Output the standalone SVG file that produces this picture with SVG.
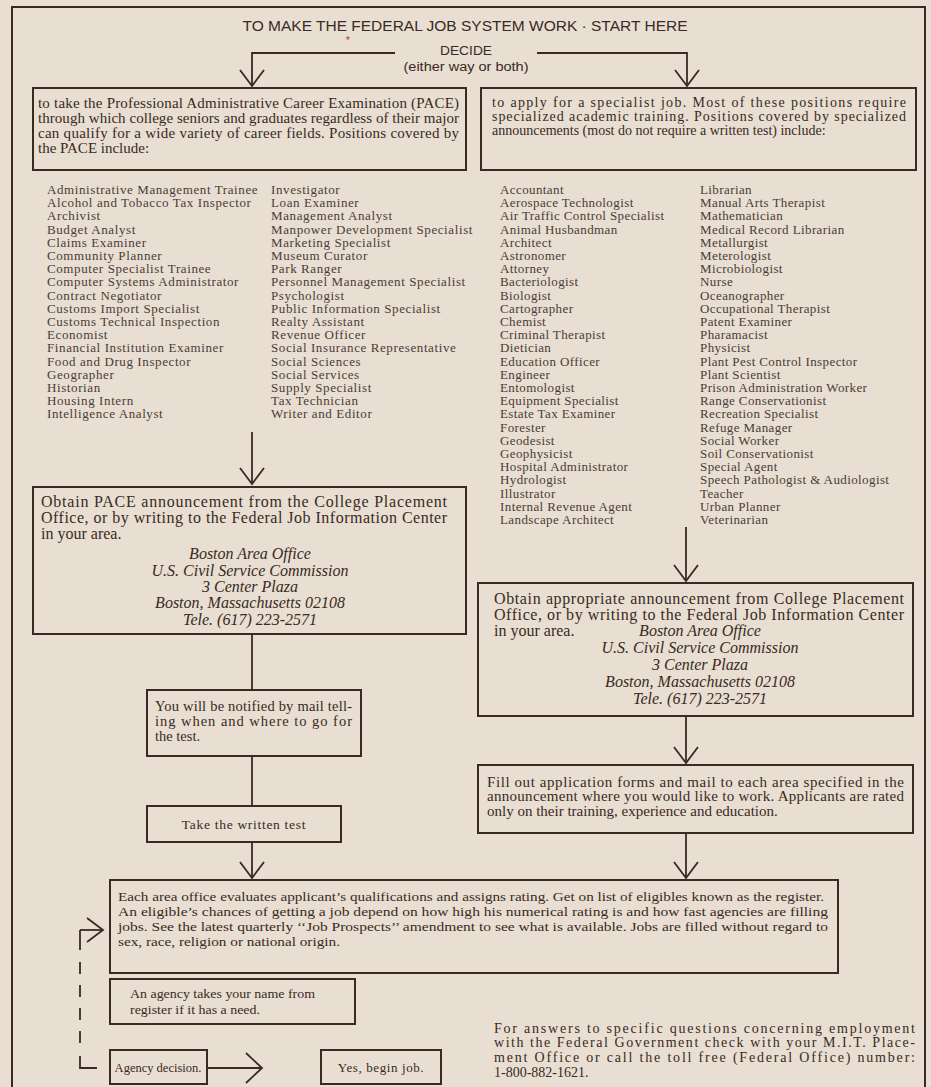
<svg xmlns="http://www.w3.org/2000/svg" width="931" height="1087" viewBox="0 0 931 1087">
<style>
.bg{fill:#e8ded2}
.box{fill:none;stroke:#3a2a22;stroke-width:2}
.ln{fill:none;stroke:#3a2a22;stroke-width:1.8}
.t{font-family:"Liberation Serif",serif;fill:#3a2a22}
.b{font-size:15px}
.lst{font-family:"Liberation Serif",serif;fill:#4a3c36;font-size:13px;letter-spacing:0.6px}
.it{font-family:"Liberation Serif",serif;font-style:italic;fill:#3a2a22;font-size:16px;text-anchor:middle}
.hd{font-family:"Liberation Sans",sans-serif;fill:#3a2a22;text-anchor:middle}
</style>
<defs>
<marker id="v" viewBox="-2 -2 20 28" refX="16" refY="12" markerWidth="20" markerHeight="28" markerUnits="userSpaceOnUse" orient="auto" overflow="visible">
<path d="M0,0 L16,12 L0,24" fill="none" stroke="#3a2a22" stroke-width="1.8"/>
</marker>
<marker id="vb" viewBox="-2 -2 20 34" refX="16" refY="15" markerWidth="20" markerHeight="34" markerUnits="userSpaceOnUse" orient="auto" overflow="visible">
<path d="M0,0 L16,15 L0,30" fill="none" stroke="#3a2a22" stroke-width="1.8"/>
</marker>
</defs>
<rect class="bg" x="0" y="0" width="931" height="1087"/>
<rect class="box" x="12" y="7" width="913" height="1085"/>

<g id="title">
<text class="hd" x="465" y="31" font-size="14" textLength="445" lengthAdjust="spacingAndGlyphs">TO MAKE THE FEDERAL JOB SYSTEM WORK · START HERE</text>
<text x="348" y="44" font-family="Liberation Sans,sans-serif" font-size="11" fill="#c0392b" text-anchor="middle">*</text>
</g>
<g id="decide">
<text class="hd" x="466" y="55" font-size="13" textLength="52" lengthAdjust="spacingAndGlyphs">DECIDE</text>
<text class="hd" x="466" y="71" font-size="12.5" textLength="125" lengthAdjust="spacingAndGlyphs">(either way or both)</text>
</g>

<g id="connectors">
<path class="ln" d="M395,53 H252 V86" marker-end="url(#v)"/>
<path class="ln" d="M537,53 H687 V86" marker-end="url(#v)"/>
<path class="ln" d="M252,432 V484" marker-end="url(#v)"/>
<path class="ln" d="M252,634 V690"/>
<path class="ln" d="M252,756 V806"/>
<path class="ln" d="M252,842 V878" marker-end="url(#v)"/>
<path class="ln" d="M686,527 V581" marker-end="url(#v)"/>
<path class="ln" d="M686,716 V763" marker-end="url(#v)"/>
<path class="ln" d="M686,833 V878" marker-end="url(#v)"/>
<path class="ln" d="M80,930 H103" marker-end="url(#v)"/>
<path class="ln" d="M80,930 V950"/>
<path class="ln" d="M80,962 V1054" stroke-dasharray="12 11"/>
<path class="ln" d="M80,1056 V1068 H97"/>
<path class="ln" d="M207,1068 H262" marker-end="url(#vb)"/>
</g>

<g id="pace-box">
<rect class="box" x="33" y="88" width="433" height="82"/>
<text class="t b" x="38" y="108" textLength="421" lengthAdjust="spacing">to take the Professional Administrative Career Examination (PACE)</text>
<text class="t b" x="38" y="123" textLength="421" lengthAdjust="spacing">through which college seniors and graduates regardless of their major</text>
<text class="t b" x="38" y="138" textLength="421" lengthAdjust="spacing">can qualify for a wide variety of career fields. Positions covered by</text>
<text class="t b" x="38" y="153">the PACE include:</text>
</g>

<g id="specialist-box">
<rect class="box" x="481" y="88" width="435" height="82"/>
<text class="t" font-size="14" x="492" y="107" textLength="414" lengthAdjust="spacing">to apply for a specialist job. Most of these positions require</text>
<text class="t" font-size="14" x="492" y="121" textLength="414" lengthAdjust="spacing">specialized academic training. Positions covered by specialized</text>
<text class="t" font-size="14" x="492" y="135">announcements (most do not require a written test) include:</text>
</g>

<g id="pace-list">
<text class="lst" x="47" y="194">
<tspan x="47" dy="0">Administrative Management Trainee</tspan>
<tspan x="47" dy="13.2">Alcohol and Tobacco Tax Inspector</tspan>
<tspan x="47" dy="13.2">Archivist</tspan>
<tspan x="47" dy="13.2">Budget Analyst</tspan>
<tspan x="47" dy="13.2">Claims Examiner</tspan>
<tspan x="47" dy="13.2">Community Planner</tspan>
<tspan x="47" dy="13.2">Computer Specialist Trainee</tspan>
<tspan x="47" dy="13.2">Computer Systems Administrator</tspan>
<tspan x="47" dy="13.2">Contract Negotiator</tspan>
<tspan x="47" dy="13.2">Customs Import Specialist</tspan>
<tspan x="47" dy="13.2">Customs Technical Inspection</tspan>
<tspan x="47" dy="13.2">Economist</tspan>
<tspan x="47" dy="13.2">Financial Institution Examiner</tspan>
<tspan x="47" dy="13.2">Food and Drug Inspector</tspan>
<tspan x="47" dy="13.2">Geographer</tspan>
<tspan x="47" dy="13.2">Historian</tspan>
<tspan x="47" dy="13.2">Housing Intern</tspan>
<tspan x="47" dy="13.2">Intelligence Analyst</tspan>
</text>
<text class="lst" x="271" y="194">
<tspan x="271" dy="0">Investigator</tspan>
<tspan x="271" dy="13.2">Loan Examiner</tspan>
<tspan x="271" dy="13.2">Management Analyst</tspan>
<tspan x="271" dy="13.2">Manpower Development Specialist</tspan>
<tspan x="271" dy="13.2">Marketing Specialist</tspan>
<tspan x="271" dy="13.2">Museum Curator</tspan>
<tspan x="271" dy="13.2">Park Ranger</tspan>
<tspan x="271" dy="13.2">Personnel Management Specialist</tspan>
<tspan x="271" dy="13.2">Psychologist</tspan>
<tspan x="271" dy="13.2">Public Information Specialist</tspan>
<tspan x="271" dy="13.2">Realty Assistant</tspan>
<tspan x="271" dy="13.2">Revenue Officer</tspan>
<tspan x="271" dy="13.2">Social Insurance Representative</tspan>
<tspan x="271" dy="13.2">Social Sciences</tspan>
<tspan x="271" dy="13.2">Social Services</tspan>
<tspan x="271" dy="13.2">Supply Specialist</tspan>
<tspan x="271" dy="13.2">Tax Technician</tspan>
<tspan x="271" dy="13.2">Writer and Editor</tspan>
</text>
</g>

<g id="specialist-list">
<text class="lst" x="500" y="194" style="letter-spacing:0.4px">
<tspan x="500" dy="0">Accountant</tspan>
<tspan x="500" dy="13.2">Aerospace Technologist</tspan>
<tspan x="500" dy="13.2">Air Traffic Control Specialist</tspan>
<tspan x="500" dy="13.2">Animal Husbandman</tspan>
<tspan x="500" dy="13.2">Architect</tspan>
<tspan x="500" dy="13.2">Astronomer</tspan>
<tspan x="500" dy="13.2">Attorney</tspan>
<tspan x="500" dy="13.2">Bacteriologist</tspan>
<tspan x="500" dy="13.2">Biologist</tspan>
<tspan x="500" dy="13.2">Cartographer</tspan>
<tspan x="500" dy="13.2">Chemist</tspan>
<tspan x="500" dy="13.2">Criminal Therapist</tspan>
<tspan x="500" dy="13.2">Dietician</tspan>
<tspan x="500" dy="13.2">Education Officer</tspan>
<tspan x="500" dy="13.2">Engineer</tspan>
<tspan x="500" dy="13.2">Entomologist</tspan>
<tspan x="500" dy="13.2">Equipment Specialist</tspan>
<tspan x="500" dy="13.2">Estate Tax Examiner</tspan>
<tspan x="500" dy="13.2">Forester</tspan>
<tspan x="500" dy="13.2">Geodesist</tspan>
<tspan x="500" dy="13.2">Geophysicist</tspan>
<tspan x="500" dy="13.2">Hospital Administrator</tspan>
<tspan x="500" dy="13.2">Hydrologist</tspan>
<tspan x="500" dy="13.2">Illustrator</tspan>
<tspan x="500" dy="13.2">Internal Revenue Agent</tspan>
<tspan x="500" dy="13.2">Landscape Architect</tspan>
</text>
<text class="lst" x="700" y="194" style="letter-spacing:0.4px">
<tspan x="700" dy="0">Librarian</tspan>
<tspan x="700" dy="13.2">Manual Arts Therapist</tspan>
<tspan x="700" dy="13.2">Mathematician</tspan>
<tspan x="700" dy="13.2">Medical Record Librarian</tspan>
<tspan x="700" dy="13.2">Metallurgist</tspan>
<tspan x="700" dy="13.2">Meterologist</tspan>
<tspan x="700" dy="13.2">Microbiologist</tspan>
<tspan x="700" dy="13.2">Nurse</tspan>
<tspan x="700" dy="13.2">Oceanographer</tspan>
<tspan x="700" dy="13.2">Occupational Therapist</tspan>
<tspan x="700" dy="13.2">Patent Examiner</tspan>
<tspan x="700" dy="13.2">Pharamacist</tspan>
<tspan x="700" dy="13.2">Physicist</tspan>
<tspan x="700" dy="13.2">Plant Pest Control Inspector</tspan>
<tspan x="700" dy="13.2">Plant Scientist</tspan>
<tspan x="700" dy="13.2">Prison Administration Worker</tspan>
<tspan x="700" dy="13.2">Range Conservationist</tspan>
<tspan x="700" dy="13.2">Recreation Specialist</tspan>
<tspan x="700" dy="13.2">Refuge Manager</tspan>
<tspan x="700" dy="13.2">Social Worker</tspan>
<tspan x="700" dy="13.2">Soil Conservationist</tspan>
<tspan x="700" dy="13.2">Special Agent</tspan>
<tspan x="700" dy="13.2">Speech Pathologist &amp; Audiologist</tspan>
<tspan x="700" dy="13.2">Teacher</tspan>
<tspan x="700" dy="13.2">Urban Planner</tspan>
<tspan x="700" dy="13.2">Veterinarian</tspan>
</text>
</g>

<g id="obtain-pace">
<rect class="box" x="33" y="487" width="433" height="147"/>
<text class="t" font-size="16" x="41" y="507" textLength="406" lengthAdjust="spacing">Obtain PACE announcement from the College Placement</text>
<text class="t" font-size="16" x="41" y="523" textLength="406" lengthAdjust="spacing">Office, or by writing to the Federal Job Information Center</text>
<text class="t" font-size="16" x="41" y="539">in your area.</text>
<text class="it" x="250" y="559">Boston Area Office</text>
<text class="it" x="250" y="576">U.S. Civil Service Commission</text>
<text class="it" x="250" y="592">3 Center Plaza</text>
<text class="it" x="250" y="608">Boston, Massachusetts 02108</text>
<text class="it" x="250" y="625">Tele. (617) 223-2571</text>
</g>

<g id="notified">
<rect class="box" x="147" y="690" width="214" height="66"/>
<text class="t" font-size="14.5" x="155" y="711" textLength="197" lengthAdjust="spacing">You will be notified by mail tell-</text>
<text class="t" font-size="14.5" x="155" y="726" textLength="197" lengthAdjust="spacing">ing when and where to go for</text>
<text class="t" font-size="14.5" x="155" y="741">the test.</text>
</g>

<g id="written-test">
<rect class="box" x="147" y="806" width="194" height="36"/>
<text class="t" font-size="13.5" x="244" y="829" text-anchor="middle" letter-spacing="0.7">Take the written test</text>
</g>

<g id="obtain-specialist">
<rect class="box" x="478" y="583" width="435" height="133"/>
<text class="t" font-size="16" x="494" y="604" textLength="410" lengthAdjust="spacing">Obtain appropriate announcement from College Placement</text>
<text class="t" font-size="16" x="494" y="620" textLength="410" lengthAdjust="spacing">Office, or by writing to the Federal Job Information Center</text>
<text class="t" font-size="16" x="494" y="636">in your area.</text>
<text class="it" x="700" y="636">Boston Area Office</text>
<text class="it" x="700" y="653">U.S. Civil Service Commission</text>
<text class="it" x="700" y="670">3 Center Plaza</text>
<text class="it" x="700" y="687">Boston, Massachusetts 02108</text>
<text class="it" x="700" y="704">Tele. (617) 223-2571</text>
</g>

<g id="fill-out">
<rect class="box" x="478" y="765" width="435" height="68"/>
<text class="t" font-size="15" x="487" y="787" textLength="417" lengthAdjust="spacing">Fill out application forms and mail to each area specified in the</text>
<text class="t" font-size="15" x="487" y="801" textLength="417" lengthAdjust="spacing">announcement where you would like to work. Applicants are rated</text>
<text class="t" font-size="15" x="487" y="816">only on their training, experience and education.</text>
</g>

<g id="evaluate">
<rect class="box" x="110" y="880" width="728" height="93"/>
<text class="t" font-size="12.5" x="118" y="901" textLength="706" lengthAdjust="spacingAndGlyphs">Each area office evaluates applicant’s qualifications and assigns rating. Get on list of eligibles known as the register.</text>
<text class="t" font-size="12.5" x="118" y="916" textLength="710" lengthAdjust="spacingAndGlyphs">An eligible’s chances of getting a job depend on how high his numerical rating is and how fast agencies are filling</text>
<text class="t" font-size="12.5" x="118" y="931" textLength="710" lengthAdjust="spacingAndGlyphs">jobs. See the latest quarterly ‘‘Job Prospects’’ amendment to see what is available. Jobs are filled without regard to</text>
<text class="t" font-size="12.5" x="118" y="946" textLength="222" lengthAdjust="spacingAndGlyphs">sex, race, religion or national origin.</text>
</g>

<g id="agency-takes">
<rect class="box" x="110" y="979" width="245" height="45"/>
<text class="t" font-size="13" x="130" y="998" textLength="185" lengthAdjust="spacingAndGlyphs">An agency takes your name from</text>
<text class="t" font-size="13" x="130" y="1014" textLength="130" lengthAdjust="spacingAndGlyphs">register if it has a need.</text>
</g>

<g id="agency-decision">
<rect class="box" x="110" y="1050" width="97" height="34"/>
<text class="t" font-size="12.5" x="158" y="1072" text-anchor="middle">Agency decision.</text>
</g>

<g id="begin-job">
<rect class="box" x="321" y="1050" width="120" height="34"/>
<text class="t" font-size="13" x="381" y="1072" text-anchor="middle" letter-spacing="0.6">Yes, begin job.</text>
</g>

<g id="contact-note">
<text class="t" font-size="14" x="494" y="1033" textLength="421" lengthAdjust="spacing">For answers to specific questions concerning employment</text>
<text class="t" font-size="14" x="494" y="1047" textLength="421" lengthAdjust="spacing">with the Federal Government check with your M.I.T. Place-</text>
<text class="t" font-size="14" x="494" y="1062" textLength="421" lengthAdjust="spacing">ment Office or call the toll free (Federal Office) number:</text>
<text class="t" font-size="14" x="494" y="1077">1-800-882-1621.</text>
</g>
</svg>
